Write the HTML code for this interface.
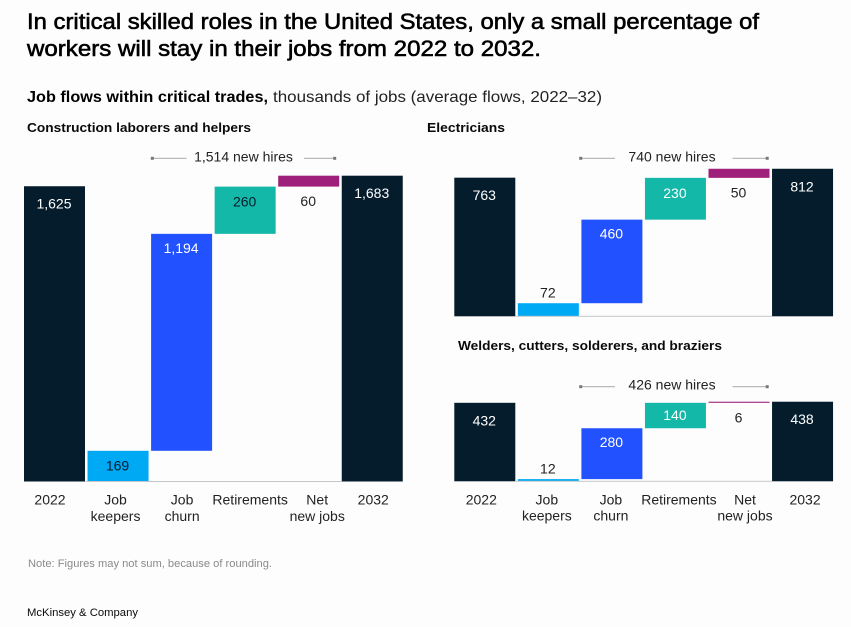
<!DOCTYPE html>
<html lang="en">
<head>
<meta charset="utf-8">
<title>Job flows within critical trades</title>
<style>
  html, body { margin: 0; padding: 0; background: #fdfdfd; }
  svg { display: block; font-family: "Liberation Sans", Arial, sans-serif; }
  .title { font-size: 22.5px; fill: #000; stroke: #000; stroke-width: .6px; }
  .sub-b { font-size: 16px; font-weight: bold; fill: #000; }
  .sub { font-size: 16px; fill: #222; }
  .chart-title { font-size: 13px; font-weight: bold; fill: #0a0a0a; }
  .val { font-size: 14px; text-anchor: middle; }
  .cat { font-size: 14px; text-anchor: middle; fill: #222; }
  .hires { font-size: 14px; text-anchor: middle; fill: #222; }
  .note { font-size: 11px; fill: #8a8a8a; }
  .brand { font-size: 11px; fill: #0a0a0a; }
</style>
</head>
<body>
<svg id="root" xmlns="http://www.w3.org/2000/svg" width="851" height="627" viewBox="0 0 851 627">
  <rect width="851" height="627" fill="#fdfdfd"/>
  <text class="title" x="27" y="29" textLength="732" lengthAdjust="spacingAndGlyphs">In critical skilled roles in the United States, only a small percentage of</text>
  <text class="title" x="27" y="56" textLength="514" lengthAdjust="spacingAndGlyphs">workers will stay in their jobs from 2022 to 2032.</text>
  <text class="sub-b" x="27" y="102" textLength="241" lengthAdjust="spacingAndGlyphs">Job flows within critical trades,</text>
  <text class="sub" x="273" y="102" textLength="329" lengthAdjust="spacingAndGlyphs">thousands of jobs (average flows, 2022–32)</text>
  <text class="chart-title" x="27" y="132" textLength="224" lengthAdjust="spacingAndGlyphs">Construction laborers and helpers</text>
  <text class="chart-title" x="427" y="132" textLength="78" lengthAdjust="spacingAndGlyphs">Electricians</text>
  <text class="chart-title" x="458" y="350" textLength="264" lengthAdjust="spacingAndGlyphs">Welders, cutters, solderers, and braziers</text>
  <text class="note" x="28" y="567" textLength="244" lengthAdjust="spacingAndGlyphs">Note: Figures may not sum, because of rounding.</text>
  <text class="brand" x="27" y="616" textLength="111" lengthAdjust="spacingAndGlyphs">McKinsey &amp; Company</text>
</svg>
<script>
// Data
const categories = [["2022"], ["Job", "keepers"], ["Job", "churn"], ["Retirements"], ["Net", "new jobs"], ["2032"]];
const constructionValues = [1625, 169, 1194, 260, 60, 1683];
const electriciansValues = [763, 72, 460, 230, 50, 812];
const weldersValues = [432, 12, 280, 140, 6, 438];
const newHires = [1514, 740, 426];

// Layout
const NS = "http://www.w3.org/2000/svg";
const root = document.getElementById("root");
const UNIT = 0.1817, STEP = 63.55, BAR_W = 61;
const fills = ["#051c2c", "#00a9f4", "#2251ff", "#14b8a8", "#9e207a", "#051c2c"];
const catShiftLeft = [-4.5, -2.5, 0.5, 5, 8.5, 1];
const catShiftRight = [-3.5, -1.5, -1, 3.5, 6, 2.5];

function make(tag, cls, txt) {
  const el = document.createElementNS(NS, tag);
  if (cls) el.setAttribute("class", cls);
  if (txt !== undefined) el.textContent = txt;
  root.appendChild(el);
  return el;
}
function rectAt(el, x, y, w, h, fill) {
  el.setAttribute("x", x);
  el.setAttribute("y", y);
  el.setAttribute("width", w);
  el.setAttribute("height", Math.max(h, 0));
  el.setAttribute("fill", fill);
}
function fmt(n) { return String(n).replace(/\B(?=(\d{3})+$)/g, ","); }

function drawChart(opt) {
  const xBand = i => opt.x0 + i * STEP;
  const yVal = v => opt.base - v * UNIT;
  const vals = opt.values;

  // Floating extents for each waterfall column
  const lows = [0, 0, vals[1], vals[1] + vals[2], vals[1] + vals[2] + vals[3], 0];
  vals.forEach((v, i) => {
    const low = lows[i], high = low + v;
    const top = yVal(high), h = v * UNIT;
    const bar = make("rect");
    
    
    rectAt(bar, xBand(i), top, BAR_W, h, fills[i]);

    // Value label: inside bars with room, otherwise above or below the bar
    let cy, color = "#fff";
    if (h < 20) {
      color = "#222";
      cy = i === 4 ? top + h + 14.5 : top - 10.5;
    } else {
      cy = top + Math.min(15, h * 0.48);
      if (i === 0 || i === 5) cy = top + 17.5;
      if (i === 2) cy = top + 14;
      if (i === 1 || (i === 3 && opt.darkRetire)) color = "#051c2c";
    }
    const lab = make("text", "val", fmt(v));
    
    
    lab.setAttribute("x", xBand(i) + BAR_W / 2 - 0.5);
    lab.setAttribute("y", cy + 5);
    lab.setAttribute("fill", color);

    // Category label (the electricians panel shares the welders' labels)
    if (opt.showCategories) {
      categories[i].forEach((line, k) => {
        const c = make("text", "cat", line);
        
        
        c.setAttribute("x", xBand(i) + BAR_W / 2 + opt.catShift[i]);
        c.setAttribute("y", opt.base + 23 + k * 16.3);
      });
    }
  });

  // Baseline
  const axis = make("rect");
  
  
  rectAt(axis, xBand(1) - 2, opt.base - 0.5, STEP * 4 + 2, 1, "#c4c7ca");

  // New hires bracket
  const bx0 = xBand(2) + opt.capInset[0], bx1 = xBand(4) + BAR_W + opt.capInset[1];
  const mid = opt.hiresMid;
  const text = make("text", "hires", fmt(opt.hires) + " new hires");
  
  
  text.setAttribute("x", mid);
  text.setAttribute("y", opt.hiresY + 3);
  [[bx0, mid - 57], [mid + 60.5, bx1]].forEach(seg => {
    const line = make("rect");
    
    
    rectAt(line, seg[0], opt.hiresY - 0.5, seg[1] - seg[0], 1, "#a9a9a9");
  });
  [bx0, bx1].forEach(x => {
    const cap = make("rect");
    
    
    rectAt(cap, x - 1.5, opt.hiresY - 1.5, 3, 3, "#777");
  });
}

drawChart({ key: "construction", values: constructionValues, hires: newHires[0], x0: 24, base: 481.5, hiresY: 158.3, hiresMid: 243.5, capInset: [1.2, -4.5], catShift: catShiftLeft, darkRetire: true, showCategories: true });
drawChart({ key: "electricians", values: electriciansValues, hires: newHires[1], x0: 454.3, base: 316.3, hiresY: 158.3, hiresMid: 672, capInset: [-0.7, -2.3], catShift: catShiftRight, darkRetire: false, showCategories: false });
drawChart({ key: "welders", values: weldersValues, hires: newHires[2], x0: 454.3, base: 481.3, hiresY: 386.7, hiresMid: 672, capInset: [-0.7, -2.3], catShift: catShiftRight, darkRetire: false, showCategories: true });
</script>
</body>
</html>
